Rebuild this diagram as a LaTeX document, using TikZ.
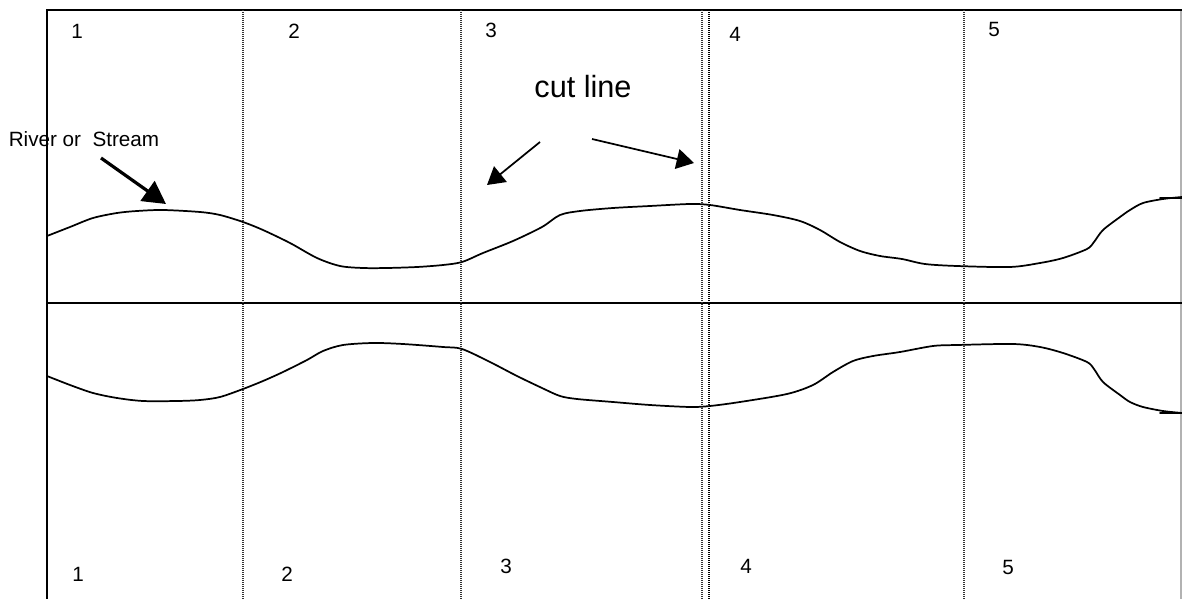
\documentclass[tikz,border=0pt]{standalone}
\usepackage{fontspec}
\setmainfont{Liberation Sans}
\usetikzlibrary{arrows.meta}
\begin{document}
\begin{tikzpicture}[x=0.75pt,y=-0.75pt,
  frame/.style={line width=1.5pt,black},
  edge/.style={line width=1pt,black!30},
  cutdots/.style={line width=0.8pt,dash pattern=on 0.75pt off 0.75pt,black!80},
  cutdotsbold/.style={line width=1.2pt,dash pattern=on 0.75pt off 0.75pt,black},
  river/.style={line width=1.3pt,black,line join=round,line cap=round},
  numlabel/.style={inner sep=0pt,font=\fontsize{15.5}{18}\selectfont},
  biglabel/.style={inner sep=0pt,font=\fontsize{23}{27}\selectfont},
  bigarrow/.style={line width=2.4pt,-{Triangle[length=17pt,width=18pt]}},
  thinarrow/.style={line width=1.3pt,-{Triangle[length=13pt,width=15pt]}}]
\useasboundingbox (0,0) rectangle (1182,599);
% frame
\draw[edge] (1181,10) -- (1181,599);
\draw[frame] (46,10) -- (1182,10);
\draw[frame] (47,10) -- (47,599);
\draw[frame] (47,303) -- (1182,303);
% cut lines
\draw[cutdots] (243,10) -- (243,599);
\draw[cutdots] (461,10) -- (461,599);
\draw[cutdots] (702,10) -- (702,599);
\draw[cutdotsbold] (709,10) -- (709,599);
\draw[cutdots] (964,10) -- (964,599);
% upper bank
\draw[river] plot[smooth,tension=0.5] coordinates {
 (47,236) (70,227) (93,218) (117,213) (137,211) (163,210) (200,212) (220,215)
 (243,222) (263,230) (290,243) (317,258) (340,266) (363,268) (387,268) (417,267)
 (443,265) (462,262) (483,253) (513,241) (542,227) (560,215) (580,211) (613,208)
 (650,206) (690,204) (710,205) (740,210) (773,215) (800,221) (820,230) (840,242)
 (860,251) (880,256) (902,259) (925,264) (957,266) (1010,267) (1040,263) (1063,258)
 (1087,249) (1094,242) (1103,230) (1120,217) (1130,210) (1143,203) (1163,199) (1182,197)};
\draw[river] (1160,198) -- (1182,198);
% lower bank
\draw[river] plot[smooth,tension=0.5] coordinates {
 (47,376) (70,385) (93,393) (117,398) (143,401) (177,401) (200,400) (220,397)
 (243,389) (263,381) (283,372) (307,360) (323,351) (343,345) (373,343) (403,344)
 (443,347) (462,349) (490,362) (517,376) (542,388) (560,396) (577,399) (613,402)
 (650,405) (690,407) (710,406) (740,402) (787,394) (813,385) (833,372) (853,361)
 (873,356) (900,352) (933,346) (957,345) (1013,344) (1040,347) (1063,353) (1087,362)
 (1094,369) (1103,382) (1120,395) (1130,402) (1143,407) (1163,411) (1182,413)};
\draw[river] (1160,413) -- (1182,413);
% numbers top
\node[numlabel] (t1) at (77,31) {1};
\node[numlabel] (t2) at (294,31) {2};
\node[numlabel] (t3) at (491,30) {3};
\node[numlabel] (t4) at (735,34) {4};
\node[numlabel] (t5) at (994,29) {5};
% numbers bottom
\node[numlabel] (b1) at (78,574) {1};
\node[numlabel] (b2) at (287,574) {2};
\node[numlabel] (b3) at (506,566) {3};
\node[numlabel] (b4) at (746,566) {4};
\node[numlabel] (b5) at (1008,567) {5};
% labels
\node[numlabel] (river) at (84,139) {River or\ \ Stream};
\node[biglabel] (cut) at (583,87) {cut line};
\coordinate (rs0) at (101,158);
\coordinate (rs1) at (166,204);
\coordinate (c0) at (540,142);
\coordinate (c1) at (487,185);
\coordinate (d0) at (592,139);
\coordinate (d1) at (694,163);
\draw[bigarrow] (rs0) -- (rs1);
\draw[thinarrow] (c0) -- (c1);
\draw[thinarrow] (d0) -- (d1);
\end{tikzpicture}
\end{document}
